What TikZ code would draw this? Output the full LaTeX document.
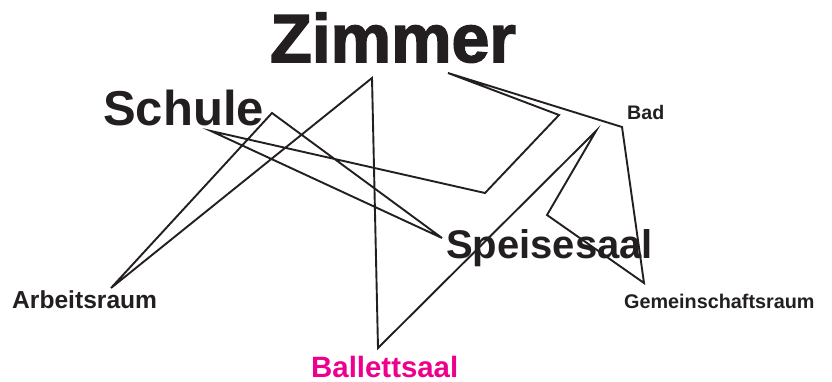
\documentclass[tikz,border=0pt]{standalone}
\usepackage{fontspec}
\setmainfont{Liberation Sans}
\newfontfamily\heavyfont[FakeBold=2.2]{Liberation Sans Bold}
\usetikzlibrary{positioning}

\definecolor{ink}{HTML}{231F20}
\definecolor{ballett}{HTML}{EC008C}

\begin{document}
\begin{tikzpicture}[
    x=1pt, y=-1pt,
    word/.style={anchor=base west, inner sep=0pt, text=ink},
    link/.style={draw=ink, line width=1.9pt}
]
  \useasboundingbox (0,0) rectangle (832,381);

  % room names
  \node[word, font=\heavyfont\fontsize{68}{68}\selectfont] (zimmer) at (270,62) {Zimmer};
  \node[word, font=\bfseries\fontsize{49}{49}\selectfont] (schule) at (103,125) {Schule};
  \node[word, font=\bfseries\fontsize{40}{40}\selectfont] (speisesaal) at (446,258) {Speisesaal};
  \node[word, font=\bfseries\fontsize{24.6}{25}\selectfont] (arbeitsraum) at (12,308) {Arbeitsraum};
  \node[word, font=\bfseries\fontsize{29.4}{30}\selectfont, text=ballett] (ballettsaal) at (311,377) {Ballettsaal};
  \node[word, font=\bfseries\fontsize{19.8}{20}\selectfont] (gemeinschaft) at (624,308) {Gemeinschaftsraum};
  \node[word, font=\bfseries\fontsize{19.6}{20}\selectfont] (bad) at (627,119) {Bad};

  % bend points
  \coordinate (zimmerA) at (372,78);
  \coordinate (zimmerB) at (448,73);
  \coordinate (schuleA) at (272,113);
  \coordinate (schuleB) at (211,131);
  \coordinate (speiseA) at (442,238);
  \coordinate (arbA)    at (111,288);
  \coordinate (ballA)   at (378,348);
  \coordinate (badA)    at (622,127);
  \coordinate (gemA)    at (644,283);
  \coordinate (k1)      at (485,193);
  \coordinate (k2)      at (559,115);
  \coordinate (k3)      at (547,215);
  \coordinate (k4)      at (596,131);

  \draw[link] (arbA) -- (schuleA) -- (speiseA) -- (schuleB) -- (k1) -- (k2)
    -- (zimmerB) -- (badA) -- (gemA) -- (k3) -- (k4) -- (ballA) -- (zimmerA) -- cycle;
\end{tikzpicture}
\end{document}
